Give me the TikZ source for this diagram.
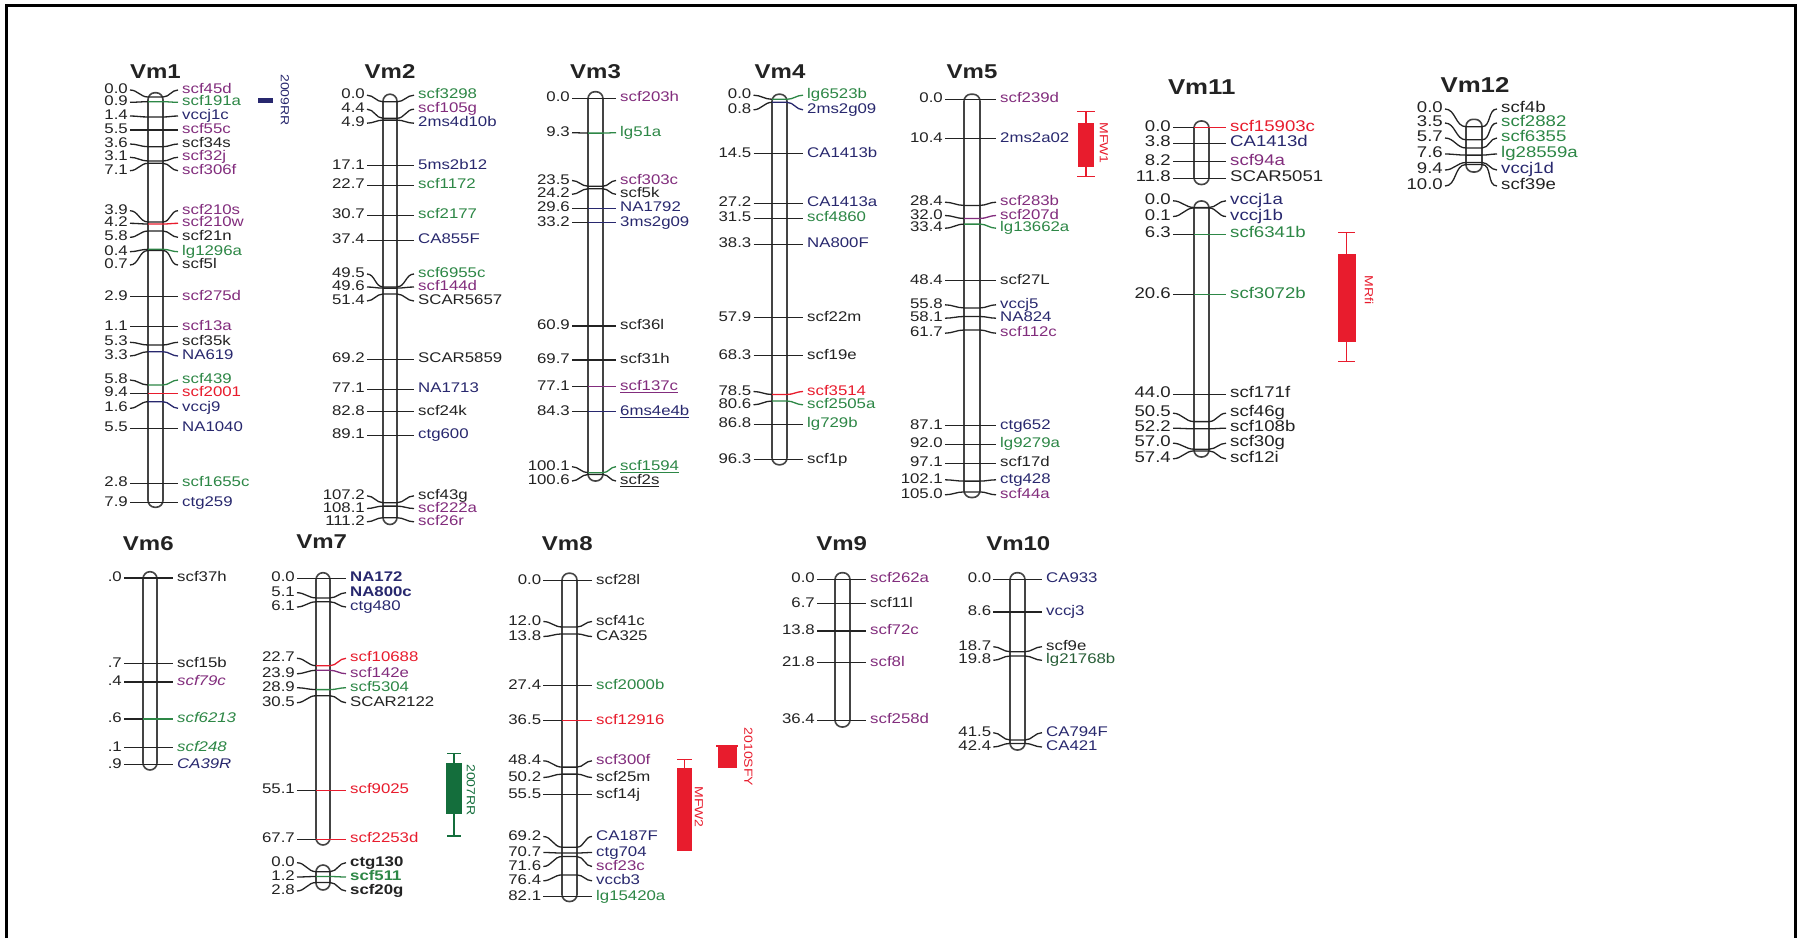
\documentclass[tikz,border=0pt]{standalone}
\usepackage{fontspec}
\setmainfont{Liberation Sans}[FakeStretch=1.2]
\definecolor{pur}{RGB}{130,45,125}
\definecolor{grn}{RGB}{45,135,70}
\definecolor{nav}{RGB}{40,40,110}
\definecolor{mred}{RGB}{232,28,45}
\definecolor{blk}{RGB}{35,35,35}
\definecolor{dgrn}{RGB}{20,110,60}
\newcounter{mk}
\def\mkfs{14}
\newcommand\setchr[4]{\def\xA{#1}\def\bL{#2}\def\bR{#3}\def\xB{#4}}
\newcommand\mrk[6]{%
  \stepcounter{mk}%
  \node[num,anchor=east] (n\arabic{mk}) at (\xA,#1) {#3};
  \node[lab,anchor=west,text=#5] (t\arabic{mk}) at (\xB,#1) {#4};
  \draw[tick] (n\arabic{mk}.east) to[out=0,in=180] (\bL,#2);
  \draw[tick,draw=#6] (\bL,#2) -- (\bR,#2) to[out=0,in=180] (t\arabic{mk}.west);
}
\tikzset{
  num/.style={font=\fontsize{\mkfs}{\mkfs}\selectfont, text=blk, inner xsep=2pt, inner ysep=0pt, text height=0.72em, text depth=0pt},
  lab/.style={font=\fontsize{\mkfs}{\mkfs}\selectfont, inner xsep=4pt, inner ysep=0pt, text height=0.72em, text depth=0pt},
  tick/.style={line width=1.3pt, draw=blk},
  bar/.style={line width=1.6pt, draw=blk!85, fill=white, rounded corners=7pt},
  title/.style={font=\fontsize{20}{20}\selectfont\bfseries, text=blk},
  qtxt/.style={font=\fontsize{11.7}{11.7}\selectfont, rotate=-90, inner sep=0pt},
}
\begin{document}
\begin{tikzpicture}[x=1pt,y=-1pt]
\useasboundingbox (0,0) rectangle (1800,938);
\fill[white] (0,0) rectangle (1800,938);
\draw[line width=3pt, black] (6,938) -- (6,5) -- (1795,5) -- (1795,938);

% ---------------- Vm1
\setchr{130}{148}{163}{178}
\draw[bar] (148,92.7) rectangle (163,507.3);
\node[title] (T1) at (155.5,71.7) {Vm1};
\mrk{90}{97}{0.0}{scf45d}{pur}{blk}
\mrk{102.3}{101.7}{0.9}{scf191a}{grn}{grn}
\mrk{116}{117}{1.4}{vccj1c}{nav}{blk}
\mrk{130}{130}{5.5}{scf55c}{pur}{blk}
\mrk{144}{146.7}{3.6}{scf34s}{blk}{blk}
\mrk{157.3}{161}{3.1}{scf32j}{pur}{blk}
\mrk{170.7}{163.3}{7.1}{scf306f}{pur}{blk}
\mrk{210.7}{222}{3.9}{scf210s}{pur}{blk}
\mrk{223.3}{224}{4.2}{scf210w}{pur}{mred}
\mrk{237.3}{231}{5.8}{scf21n}{blk}{blk}
\mrk{251.7}{249.3}{0.4}{lg1296a}{grn}{grn}
\mrk{265}{250.5}{0.7}{scf5l}{blk}{blk}
\mrk{296.7}{296.7}{2.9}{scf275d}{pur}{blk}
\mrk{326.7}{326.7}{1.1}{scf13a}{pur}{blk}
\mrk{342.3}{345}{5.3}{scf35k}{blk}{blk}
\mrk{356}{351.7}{3.3}{NA619}{nav}{nav}
\mrk{380}{385}{5.8}{scf439}{grn}{grn}
\mrk{393.3}{393.3}{9.4}{scf2001}{mred}{mred}
\mrk{408.3}{401.7}{1.6}{vccj9}{nav}{nav}
\mrk{428.3}{428.3}{5.5}{NA1040}{nav}{blk}
\mrk{483.3}{483.3}{2.8}{scf1655c}{grn}{blk}
\mrk{502.7}{502.7}{7.9}{ctg259}{nav}{blk}
\fill[nav] (258,97.5) rectangle (273,102.5);
\node[qtxt,text=nav] (Q1) at (285,100) {2009RR};

% ---------------- Vm2
\node[title] (T2) at (390,71.7) {Vm2};
\begin{scope}[yshift=-2.5pt]
\setchr{367}{383}{397}{414}
\draw[bar] (383,91.7) rectangle (397,522);
\mrk{92.7}{99.3}{0.0}{scf3298}{grn}{blk}
\mrk{106.7}{115.8}{4.4}{scf105g}{pur}{blk}
\mrk{120.7}{117.6}{4.9}{2ms4d10b}{nav}{blk}
\mrk{163.3}{163.3}{17.1}{5ms2b12}{nav}{blk}
\mrk{182.7}{182.7}{22.7}{scf1172}{grn}{blk}
\mrk{212.7}{212.7}{30.7}{scf2177}{grn}{blk}
\mrk{237.7}{237.7}{37.4}{CA855F}{nav}{blk}
\mrk{271.5}{284.4}{49.5}{scf6955c}{grn}{blk}
\mrk{284.5}{285.6}{49.6}{scf144d}{pur}{blk}
\mrk{298.5}{291.5}{51.4}{SCAR5657}{blk}{blk}
\mrk{356.7}{356.7}{69.2}{SCAR5859}{blk}{blk}
\mrk{386.7}{386.7}{77.1}{NA1713}{nav}{blk}
\mrk{409.3}{409.3}{82.8}{scf24k}{blk}{blk}
\mrk{432.7}{432.7}{89.1}{ctg600}{nav}{blk}
\mrk{493.3}{500.2}{107.2}{scf43g}{blk}{blk}
\mrk{506}{503.6}{108.1}{scf222a}{pur}{blk}
\mrk{519.3}{515.2}{111.2}{scf26r}{pur}{blk}
\end{scope}

% ---------------- Vm3
\setchr{572}{588}{603}{616}
\draw[bar] (588,91.7) rectangle (603,481);
\node[title] (T3) at (595.5,71.7) {Vm3};
\mrk{98.3}{98.3}{0.0}{scf203h}{pur}{blk}
\mrk{132.7}{133.1}{9.3}{lg51a}{grn}{grn}
\mrk{180.5}{186.2}{23.5}{scf303c}{pur}{blk}
\mrk{194.3}{188.8}{24.2}{scf5k}{blk}{blk}
\mrk{208.3}{208.3}{29.6}{NA1792}{nav}{nav}
\mrk{222.7}{222.7}{33.2}{3ms2g09}{nav}{nav}
\mrk{326}{326}{60.9}{scf36l}{blk}{blk}
\mrk{360}{360}{69.7}{scf31h}{blk}{blk}
\mrk{386.7}{386.7}{77.1}{\underline{scf137c}}{pur}{pur}
\mrk{411.7}{411.7}{84.3}{\underline{6ms4e4b}}{nav}{nav}
\mrk{466.7}{472.7}{100.1}{\underline{scf1594}}{grn}{grn}
\mrk{481}{474.5}{100.6}{\underline{scf2s}}{blk}{blk}

% ---------------- Vm4
\node[title] (T4) at (780,71.7) {Vm4};
\begin{scope}[yshift=-2.5pt]
\setchr{753.5}{772}{787}{803}
\draw[bar] (772,91.7) rectangle (787,462.3);
\mrk{92.7}{96.8}{0.0}{lg6523b}{grn}{grn}
\mrk{107.3}{99.8}{0.8}{2ms2g09}{nav}{nav}
\mrk{151}{151}{14.5}{CA1413b}{nav}{blk}
\mrk{200.7}{200.7}{27.2}{CA1413a}{nav}{blk}
\mrk{215.7}{215.7}{31.5}{scf4860}{grn}{blk}
\mrk{241.7}{241.7}{38.3}{NA800F}{nav}{blk}
\mrk{315}{315}{57.9}{scf22m}{blk}{blk}
\mrk{353.3}{353.3}{68.3}{scf19e}{blk}{blk}
\mrk{389}{392}{78.5}{scf3514}{mred}{mred}
\mrk{402.3}{398.5}{80.6}{scf2505a}{grn}{grn}
\mrk{421.7}{421.7}{86.8}{lg729b}{grn}{blk}
\mrk{457.3}{457.3}{96.3}{scf1p}{blk}{blk}
\end{scope}

% ---------------- Vm5
\node[title] (T5) at (972,71.7) {Vm5};
\begin{scope}[yshift=-1.5pt]
\setchr{945}{964}{980}{996}
\draw[bar] (964,92.7) rectangle (980,496);
\mrk{97.7}{97.7}{0.0}{scf239d}{pur}{blk}
\mrk{137.3}{137.3}{10.4}{2ms2a02}{nav}{blk}
\mrk{200.7}{203.9}{28.4}{scf283b}{pur}{blk}
\mrk{214}{217}{32.0}{scf207d}{pur}{pur}
\mrk{226.7}{222.6}{33.4}{lg13662a}{grn}{grn}
\mrk{279.3}{279.3}{48.4}{scf27L}{blk}{blk}
\mrk{303.3}{306.4}{55.8}{vccj5}{nav}{blk}
\mrk{316.7}{315}{58.1}{NA824}{nav}{blk}
\mrk{331.7}{328.5}{61.7}{scf112c}{pur}{blk}
\mrk{424}{424}{87.1}{ctg652}{nav}{blk}
\mrk{442.7}{442.7}{92.0}{lg9279a}{grn}{blk}
\mrk{461.7}{461.7}{97.1}{scf17d}{blk}{blk}
\mrk{478.3}{479.6}{102.1}{ctg428}{nav}{blk}
\mrk{493.3}{490.4}{105.0}{scf44a}{pur}{blk}
\end{scope}
% MFW1
\draw[mred,line width=1.3pt] (1086,111.7) -- (1086,176.7) (1077,111.7) -- (1095,111.7) (1077,176.7) -- (1095,176.7);
\fill[mred] (1078,123.3) rectangle (1094,166.7);
\node[qtxt,text=mred] (Q2) at (1104,143) {MFW1};

% ---------------- Vm11
\def\mkfs{15.5}
\node[title,font=\fontsize{21.5}{21.5}\selectfont\bfseries] (T11) at (1201.7,86.7) {Vm11};
\begin{scope}[yshift=-1.5pt]
\setchr{1173}{1194}{1209}{1226}
\draw[bar] (1194,119.5) rectangle (1209,183);
\draw[bar] (1194,199.5) rectangle (1209,455.5);
\mrk{126}{126}{0.0}{scf15903c}{mred}{mred}
\mrk{141.7}{141.7}{3.8}{CA1413d}{nav}{blk}
\mrk{160}{160}{8.2}{scf94a}{pur}{blk}
\mrk{176.7}{176.7}{11.8}{SCAR5051}{blk}{blk}
\mrk{199.3}{206}{0.0}{vccj1a}{nav}{blk}
\mrk{215}{206.4}{0.1}{vccj1b}{nav}{blk}
\mrk{232.7}{232.7}{6.3}{scf6341b}{grn}{grn}
\mrk{293.3}{293.3}{20.6}{scf3072b}{grn}{grn}
\mrk{392.7}{392.7}{44.0}{scf171f}{blk}{blk}
\mrk{411.7}{420.1}{50.5}{scf46g}{blk}{blk}
\mrk{426.7}{427.3}{52.2}{scf108b}{blk}{blk}
\mrk{441.7}{447.7}{57.0}{scf30g}{blk}{blk}
\mrk{457.3}{449.4}{57.4}{scf12i}{blk}{blk}
\end{scope}
% MRfi
\draw[mred,line width=1.3pt] (1346.7,232.7) -- (1346.7,361.7) (1338.3,232.7) -- (1355,232.7) (1338.3,361.7) -- (1355,361.7);
\fill[mred] (1337.5,254) rectangle (1355.5,341.7);
\node[qtxt,text=mred] (Q3) at (1369,290) {MRfi};

% ---------------- Vm12
\setchr{1445}{1466}{1482}{1497}
\draw[bar] (1466,119.3) rectangle (1482,172);
\node[title,font=\fontsize{21.5}{21.5}\selectfont\bfseries] (T12) at (1475,85) {Vm12};
\mrk{109}{126.7}{0.0}{scf4b}{blk}{blk}
\mrk{123}{139.8}{3.5}{scf2882}{grn}{blk}
\mrk{138}{148}{5.7}{scf6355}{grn}{blk}
\mrk{154}{155.1}{7.6}{lg28559a}{grn}{blk}
\mrk{170}{162.5}{9.4}{vccj1d}{nav}{blk}
\mrk{186}{164.5}{10.0}{scf39e}{blk}{blk}
\def\mkfs{14}

% ---------------- Vm6
\setchr{124}{143}{157}{173}
\draw[bar] (143,571.7) rectangle (157,770);
\node[title] (T6) at (148.3,543.3) {Vm6};
\mrk{578}{578}{.0}{scf37h}{blk}{blk}
\mrk{663.5}{663.5}{.7}{scf15b}{blk}{blk}
\mrk{682}{682}{.4}{\textit{scf79c}}{pur}{blk}
\mrk{719}{719}{.6}{\textit{scf6213}}{grn}{grn}
\mrk{747.5}{747.5}{.1}{\textit{scf248}}{grn}{blk}
\mrk{764.6}{764.6}{.9}{\textit{CA39R}}{nav}{blk}

% ---------------- Vm7
\node[title] (T7) at (321.7,541.7) {Vm7};
\begin{scope}[yshift=-1pt]
\setchr{297}{316}{330}{346}
\draw[bar] (316,571.7) rectangle (330,844);
\draw[bar] (316,864) rectangle (330,889);
\mrk{577.3}{577.3}{0.0}{\textbf{NA172}}{nav}{blk}
\mrk{591.7}{596.9}{5.1}{\textbf{NA800c}}{nav}{blk}
\mrk{606}{600.8}{6.1}{ctg480}{nav}{blk}
\mrk{657.3}{664.7}{22.7}{scf10688}{mred}{mred}
\mrk{672.7}{669.3}{23.9}{scf142e}{pur}{pur}
\mrk{686.7}{688.6}{28.9}{scf5304}{grn}{grn}
\mrk{701.7}{694.7}{30.5}{SCAR2122}{blk}{blk}
\mrk{789.3}{789.3}{55.1}{scf9025}{mred}{mred}
\mrk{838.3}{838.3}{67.7}{scf2253d}{mred}{mred}
\mrk{861.7}{870.7}{0.0}{\textbf{ctg130}}{blk}{blk}
\mrk{876}{875.5}{1.2}{\textbf{scf511}}{grn}{grn}
\mrk{890}{881.5}{2.8}{\textbf{scf20g}}{blk}{blk}
\end{scope}
% 2007RR
\draw[dgrn,line width=1.3pt] (454,753.3) -- (454,836) (447,753.3) -- (461,753.3) (447,836) -- (461,836);
\fill[dgrn] (446,763.3) rectangle (462,814);
\node[qtxt,text=dgrn] (Q4) at (471,790) {2007RR};

% ---------------- Vm8
\node[title] (T8) at (567.3,543.3) {Vm8};
\begin{scope}[yshift=-1.5pt]
\setchr{543.3}{562}{577}{592}
\draw[bar] (562,571.7) rectangle (577,900);
\mrk{579.3}{579.3}{0.0}{scf28l}{blk}{blk}
\mrk{620}{625.5}{12.0}{scf41c}{blk}{blk}
\mrk{635}{632.4}{13.8}{CA325}{blk}{blk}
\mrk{684}{684}{27.4}{scf2000b}{grn}{blk}
\mrk{719}{719}{36.5}{scf12916}{mred}{mred}
\mrk{759.3}{765.6}{48.4}{scf300f}{pur}{blk}
\mrk{776}{772.6}{50.2}{scf25m}{blk}{blk}
\mrk{793.3}{793.3}{55.5}{scf14j}{blk}{blk}
\mrk{835}{845.7}{69.2}{CA187F}{nav}{blk}
\mrk{851}{851.5}{70.7}{ctg704}{nav}{blk}
\mrk{865}{855}{71.6}{scf23c}{pur}{blk}
\mrk{879.3}{873.4}{76.4}{vccb3}{nav}{blk}
\mrk{895}{895}{82.1}{lg15420a}{grn}{blk}
\end{scope}
% MFW2
\draw[mred,line width=1.3pt] (684.3,759.3) -- (684.3,770) (677,759.3) -- (692,759.3);
\fill[mred] (677,768.3) rectangle (692.3,851);
\node[qtxt,text=mred] (Q5) at (699,807) {MFW2};
% 2010SFY
\draw[mred,line width=1.3pt] (716,746) -- (738,746);
\fill[mred] (718.3,746) rectangle (736.7,768.3);
\node[qtxt,text=mred] (Q6) at (748.3,757) {2010SFY};

% ---------------- Vm9
\node[title] (T9) at (841.7,543.3) {Vm9};
\begin{scope}[yshift=-1pt]
\setchr{817}{835}{850}{866}
\draw[bar] (835,571.7) rectangle (850,726);
\mrk{578.3}{578.3}{0.0}{scf262a}{pur}{blk}
\mrk{602.7}{602.7}{6.7}{scf11l}{blk}{blk}
\mrk{630}{630}{13.8}{scf72c}{pur}{blk}
\mrk{661.7}{661.7}{21.8}{scf8l}{pur}{blk}
\mrk{719.3}{719.3}{36.4}{scf258d}{pur}{blk}
\end{scope}

% ---------------- Vm10
\node[title] (T10) at (1018.3,543.3) {Vm10};
\begin{scope}[yshift=-1pt]
\setchr{993.3}{1010}{1025}{1042}
\draw[bar] (1010,571.7) rectangle (1025,749);
\mrk{578.3}{578.3}{0.0}{CA933}{nav}{blk}
\mrk{611}{611}{8.6}{vccj3}{nav}{blk}
\mrk{645.7}{650.7}{18.7}{scf9e}{blk}{blk}
\mrk{659.3}{655}{19.8}{lg21768b}{grn!60!blk}{blk}
\mrk{731.7}{739}{41.5}{CA794F}{nav}{blk}
\mrk{746}{742.4}{42.4}{CA421}{nav}{blk}
\end{scope}
\end{tikzpicture}
\end{document}
